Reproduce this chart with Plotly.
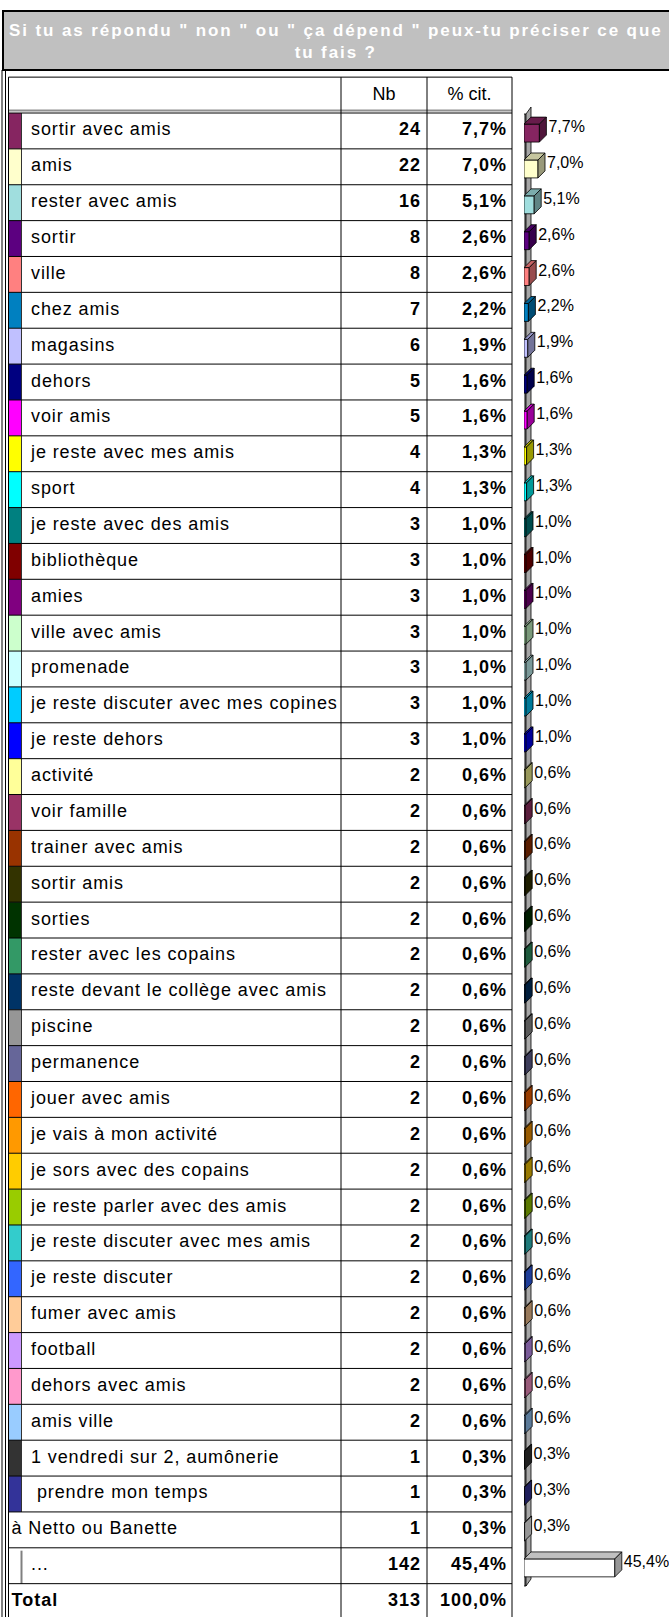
import plotly.graph_objects as go

title_lines = ['Si tu as répondu " non " ou " ça dépend " peux-tu préciser ce que', "tu fais ?"]
header_nb = "Nb"
header_pct = "% cit."

labels = [
    "sortir avec amis", "amis", "rester avec amis", "sortir", "ville", "chez amis",
    "magasins", "dehors", "voir amis", "je reste avec mes amis", "sport",
    "je reste avec des amis", "bibliothèque", "amies", "ville avec amis", "promenade",
    "je reste discuter avec mes copines", "je reste dehors", "activité", "voir famille",
    "trainer avec amis", "sortir amis", "sorties", "rester avec les copains",
    "reste devant le collège avec amis", "piscine", "permanence", "jouer avec amis",
    "je vais à mon activité", "je sors avec des copains", "je reste parler avec des amis",
    "je reste discuter avec mes amis", "je reste discuter", "fumer avec amis", "football",
    "dehors avec amis", "amis ville", "1 vendredi sur 2, aumônerie", " prendre mon temps",
    "à Netto ou Banette", "...",
]
counts = [24, 22, 16, 8, 8, 7, 6, 5, 5, 4, 4, 3, 3, 3, 3, 3, 3, 3,
          2, 2, 2, 2, 2, 2, 2, 2, 2, 2, 2, 2, 2, 2, 2, 2, 2, 2, 2, 1, 1, 1, 142]
pcts = [7.7, 7.0, 5.1, 2.6, 2.6, 2.2, 1.9, 1.6, 1.6, 1.3, 1.3, 1.0, 1.0, 1.0, 1.0, 1.0, 1.0, 1.0,
        0.6, 0.6, 0.6, 0.6, 0.6, 0.6, 0.6, 0.6, 0.6, 0.6, 0.6, 0.6, 0.6, 0.6, 0.6, 0.6, 0.6, 0.6,
        0.6, 0.3, 0.3, 0.3, 45.4]
colors = [
    "#862561", "#FFFFCC", "#A0DEDE", "#5C0080", "#FF8080", "#0080C0", "#C0C0FF", "#000080",
    "#FF00FF", "#FFFF00", "#00FFFF", "#008080", "#800000", "#800080", "#CCFFCC", "#CCFFFF",
    "#00CCFF", "#0000FF", "#FFFF99", "#993366", "#993300", "#333300", "#003300", "#339966",
    "#003366", "#969696", "#666699", "#FF6600", "#FF9900", "#FFCC00", "#99CC00", "#33CCCC",
    "#3366FF", "#FFCC99", "#CC99FF", "#FF99CC", "#99CCFF", "#333333", "#333399", "#FFFFFF",
    "#FFFFFF",
]
total_label = "Total"
total_count = 313
total_pct = 100.0


def fr(v):
    return f"{v:.1f}".replace(".", ",") + "%"


def shade(c, f):
    c = c.lstrip("#")
    r, g, b = (int(c[i:i + 2], 16) for i in (0, 2, 4))
    return "#%02x%02x%02x" % (int(r * f), int(g * f), int(b * f))


def sp(t, px):
    return '<span style="letter-spacing:%spx">%s</span>' % (px, t)


W, H = 669, 1617
ROW_TOP, ROW_H = 113, 35.87
FONT = "Liberation Sans, Arial, sans-serif"


def py(p):  # pixel -> row units
    return (p - ROW_TOP) / ROW_H - 0.5


n = len(labels)
rows = list(range(n))
X_L, X_SW, X_NB, X_PC, X_R = 8.5, 21.5, 341, 427, 512
BAR0, SCALE = 524, 2.0
DX, DY = 7 / SCALE, 7 / ROW_H

fig = go.Figure()

# bars (front faces)
fig.add_trace(go.Bar(
    x=pcts, y=[r + 0.06 for r in rows], orientation="h", width=0.5,
    marker=dict(color=colors, line=dict(color="black", width=0.8)),
    xaxis="x2", yaxis="y", hoverinfo="skip",
))
# bar value labels
fig.add_trace(go.Scatter(
    x=[v + DX + 1.0 for v in pcts], y=[r - 0.08 for r in rows], mode="text",
    text=[fr(v) for v in pcts], textposition="middle right",
    textfont=dict(family=FONT, size=16, color="black"),
    xaxis="x2", yaxis="y", cliponaxis=False, hoverinfo="skip",
))

# table text
disp = [l.replace(" ", "\u00a0", 1) if l.startswith(" ") else l for l in labels]
lab_x = [X_SW + 9.5] * n
lab_x[n - 2] = X_L + 3  # "à Netto" row has no swatch
fig.add_trace(go.Scatter(
    x=lab_x + [X_L + 3], y=rows + [n], mode="text",
    text=[sp(t, 0.9) for t in disp] + [sp("<b>" + total_label + "</b>", 1)],
    textposition="middle right",
    textfont=dict(family=FONT, size=18, color="black"), cliponaxis=False, hoverinfo="skip",
))
fig.add_trace(go.Scatter(
    x=[X_PC - 6] * (n + 1), y=rows + [n], mode="text",
    text=[sp("<b>%d</b>" % c, 1) for c in counts + [total_count]], textposition="middle left",
    textfont=dict(family=FONT, size=18, color="black"), cliponaxis=False, hoverinfo="skip",
))
fig.add_trace(go.Scatter(
    x=[X_R - 5] * (n + 1), y=rows + [n], mode="text",
    text=[sp("<b>%s</b>" % fr(p), 1) for p in pcts + [total_pct]], textposition="middle left",
    textfont=dict(family=FONT, size=18, color="black"), cliponaxis=False, hoverinfo="skip",
))
fig.add_trace(go.Scatter(
    x=[(X_NB + X_PC) / 2, (X_PC + X_R) / 2], y=[-1, -1], mode="text",
    text=[header_nb, header_pct], textposition="middle center",
    textfont=dict(family=FONT, size=18, color="black"), cliponaxis=False, hoverinfo="skip",
))

shapes = []
# title box
shapes.append(dict(type="rect", xref="x", yref="y", x0=3, x1=672, y0=py(11), y1=py(70),
                   fillcolor="#c0c0c0", line=dict(color="black", width=2), layer="below"))
# outer double border on the left
for xx in (2, 5.5):
    shapes.append(dict(type="line", xref="x", yref="y", x0=xx, x1=xx, y0=py(70), y1=py(H + 5),
                       line=dict(color="black", width=1)))
# swatches
for i in rows:
    if i == n - 2:
        continue
    shapes.append(dict(type="rect", xref="x", yref="y", x0=X_L, x1=X_SW, y0=i - 0.5, y1=i + 0.5,
                       fillcolor=colors[i], line=dict(width=0), layer="below"))
    lc = "#808080" if i == n - 1 else "#333333"
    yy0 = i - 0.42 if i == n - 1 else i - 0.5
    shapes.append(dict(type="line", xref="x", yref="y", x0=X_SW, x1=X_SW, y0=yy0, y1=i + 0.5,
                       line=dict(color=lc, width=2 if i == n - 1 else 1)))
# horizontal row lines
for k in range(-1, n + 2):
    yk = k - 0.5
    shapes.append(dict(type="line", xref="x", yref="y", x0=X_L, x1=X_R, y0=yk, y1=yk,
                       line=dict(color="black", width=1)))
# double line under the header
shapes.append(dict(type="line", xref="x", yref="y", x0=X_L, x1=X_R, y0=py(ROW_TOP - 2.5),
                   y1=py(ROW_TOP - 2.5), line=dict(color="#909090", width=2)))
# vertical column lines
for xx in (X_L, X_NB, X_PC, X_R):
    shapes.append(dict(type="line", xref="x", yref="y", x0=xx, x1=xx, y0=-1.5, y1=n + 1,
                       line=dict(color="black", width=1)))

# 3D axis wall
wx0, wx1, wx2 = (523 - BAR0) / SCALE, (526 - BAR0) / SCALE, (531 - BAR0) / SCALE
wt, wb = py(114), py(1586)
shapes.append(dict(type="path", xref="x2", yref="y",
                   path=f"M{wx0},{wt} L{wx1},{wt} L{wx1},{wb} L{wx0},{wb} Z",
                   fillcolor="#808080", line=dict(color="black", width=0.8), layer="below"))
shapes.append(dict(type="path", xref="x2", yref="y",
                   path=f"M{wx1},{wt} L{wx2},{wt - DY} L{wx2},{wb - DY} L{wx1},{wb} Z",
                   fillcolor="#a6a6a6", line=dict(color="black", width=0.8), layer="below"))

# 3D faces of the bars
for i, (v, c) in enumerate(zip(pcts, colors)):
    y0, y1 = i + 0.06 - 0.25, i + 0.06 + 0.25
    top = shade(c, 0.78) if c != "#FFFFFF" else "#c0c0c0"
    side = shade(c, 0.6) if c != "#FFFFFF" else "#969696"
    shapes.append(dict(type="path", xref="x2", yref="y",
                       path=f"M0,{y0} L{v},{y0} L{v + DX},{y0 - DY} L{DX},{y0 - DY} Z",
                       fillcolor=top, line=dict(color="black", width=0.8)))
    shapes.append(dict(type="path", xref="x2", yref="y",
                       path=f"M{v},{y0} L{v + DX},{y0 - DY} L{v + DX},{y1 - DY} L{v},{y1} Z",
                       fillcolor=side, line=dict(color="black", width=0.8)))

title_html = "<br>".join(sp(t, 1.9) for t in title_lines)

fig.update_layout(
    width=W, height=H, margin=dict(l=0, r=0, t=0, b=0),
    paper_bgcolor="white", plot_bgcolor="rgba(0,0,0,0)", showlegend=False,
    xaxis=dict(range=[0, W], domain=[0, 1], visible=False, fixedrange=True),
    xaxis2=dict(range=[0, (W - BAR0) / SCALE], domain=[BAR0 / W, 1], anchor="y",
                visible=False, fixedrange=True),
    yaxis=dict(range=[py(H), py(0)], visible=False, fixedrange=True),
    shapes=shapes,
    annotations=[dict(
        text="<b>%s</b>" % title_html, xref="x", yref="y", x=336, y=py(41.5),
        showarrow=False, xanchor="center", yanchor="middle", align="center",
        font=dict(family=FONT, size=17, color="white"),
    )],
)

fig.write_html("out.html", config={"displayModeBar": False},
               post_script="document.body.style.margin='0';")
